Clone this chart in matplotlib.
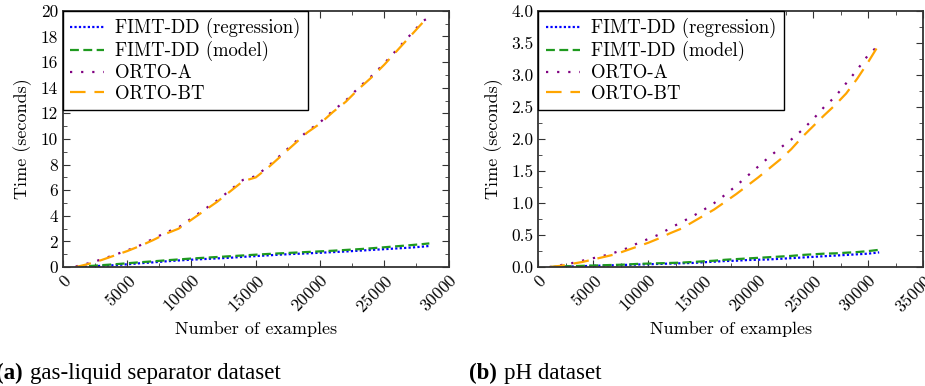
import matplotlib
matplotlib.use("Agg")
import matplotlib.pyplot as plt
from matplotlib.ticker import MultipleLocator

plt.rcParams['font.family'] = 'cmr10'
plt.rcParams['axes.formatter.use_mathtext'] = True
plt.rcParams['mathtext.fontset'] = 'cm'

# gas-liquid separator dataset
x_gas = [1000, 2000, 3000, 4000, 5000, 6000, 7000, 8000, 9000, 10000,
         11000, 12000, 13000, 14000, 15000, 16000, 17000, 18000, 19000, 20000,
         21000, 22000, 23000, 24000, 25000, 26000, 27000, 28000, 28500]
fimt_reg_gas = [0.0, 0.05, 0.1, 0.15, 0.22, 0.3, 0.37, 0.45, 0.52, 0.58,
                0.63, 0.68, 0.73, 0.8, 0.86, 0.92, 0.98, 1.03, 1.07, 1.12,
                1.17, 1.22, 1.28, 1.34, 1.4, 1.46, 1.52, 1.6, 1.65]
fimt_mod_gas = [0.0, 0.08, 0.15, 0.22, 0.3, 0.38, 0.45, 0.53, 0.6, 0.67,
                0.73, 0.79, 0.85, 0.91, 0.97, 1.03, 1.08, 1.13, 1.18, 1.23,
                1.28, 1.34, 1.4, 1.47, 1.55, 1.63, 1.71, 1.8, 1.85]
orto_a_gas = [0.05, 0.3, 0.6, 0.95, 1.3, 1.7, 2.2, 2.7, 3.1, 3.8,
              4.5, 5.2, 6.0, 6.8, 7.1, 7.9, 8.8, 9.7, 10.6, 11.3,
              12.2, 13.0, 14.0, 14.9, 15.9, 17.0, 18.1, 19.2, 19.5]
orto_bt_gas = [0.0, 0.25, 0.55, 0.9, 1.25, 1.65, 2.1, 2.6, 3.0, 3.7,
               4.4, 5.1, 5.9, 6.7, 7.0, 7.8, 8.7, 9.6, 10.5, 11.2,
               12.1, 12.9, 13.9, 14.8, 15.8, 16.9, 18.0, 19.1, 19.4]

# pH dataset
x_ph = [1000, 2000, 3000, 4000, 5000, 6000, 7000, 8000, 9000, 10000,
        11000, 12000, 13000, 14000, 15000, 16000, 17000, 18000, 19000, 20000,
        21000, 22000, 23000, 24000, 25000, 26000, 27000, 28000, 29000, 30000, 31000]
fimt_reg_ph = [0.0, 0.005, 0.01, 0.015, 0.02, 0.025, 0.03, 0.035, 0.04, 0.045,
               0.05, 0.055, 0.06, 0.065, 0.075, 0.085, 0.095, 0.1, 0.11, 0.115,
               0.12, 0.13, 0.14, 0.15, 0.16, 0.17, 0.18, 0.19, 0.2, 0.21, 0.23]
fimt_mod_ph = [0.0, 0.01, 0.015, 0.02, 0.025, 0.03, 0.035, 0.04, 0.05, 0.055,
               0.06, 0.065, 0.07, 0.08, 0.09, 0.1, 0.115, 0.125, 0.135, 0.145,
               0.155, 0.165, 0.175, 0.19, 0.2, 0.21, 0.215, 0.225, 0.235, 0.25, 0.27]
orto_a_ph = [0.0, 0.03, 0.06, 0.10, 0.14, 0.18, 0.23, 0.29, 0.37, 0.44,
             0.51, 0.61, 0.70, 0.79, 0.89, 1.00, 1.13, 1.27, 1.42, 1.57,
             1.72, 1.86, 1.99, 2.14, 2.31, 2.50, 2.66, 2.87, 3.08, 3.31, 3.47]
orto_bt_ph = [0.0, 0.02, 0.05, 0.08, 0.12, 0.16, 0.20, 0.26, 0.32, 0.38,
              0.45, 0.53, 0.60, 0.70, 0.80, 0.90, 1.02, 1.14, 1.27, 1.40,
              1.54, 1.68, 1.84, 2.03, 2.20, 2.37, 2.53, 2.71, 2.94, 3.20, 3.48]

labels = ['FIMT-DD (regression)', 'FIMT-DD (model)', 'ORTO-A', 'ORTO-BT']
colors = ['#0000ff', '#1f9a1f', '#800080', '#ffa500']
styles = [(0, (1, 1)), (0, (4, 2)), (0, (1, 4)), (0, (7, 4))]

fig = plt.figure(figsize=(9.25, 3.86), dpi=100)
ax1 = fig.add_axes([0.068, 0.308, 0.417, 0.664])
ax2 = fig.add_axes([0.582, 0.308, 0.416, 0.664])


def draw(ax, x, series, xmax, ymax, ymaj, ymin_step, fmt):
    for ys, lab, c, ls in zip(series, labels, colors, styles):
        ax.plot(x, ys, color=c, linestyle=ls, linewidth=1.6, label=lab)
    ax.set_xlim(0, xmax)
    ax.set_ylim(0, ymax)
    ax.xaxis.set_major_locator(MultipleLocator(5000))
    ax.xaxis.set_minor_locator(MultipleLocator(2500))
    ax.yaxis.set_major_locator(MultipleLocator(ymaj))
    ax.yaxis.set_minor_locator(MultipleLocator(ymin_step))
    ax.yaxis.set_major_formatter(plt.FormatStrFormatter(fmt))
    ax.tick_params(which='both', direction='in', top=True, right=True,
                   labelsize=12.5, color='#333333')
    ax.tick_params(which='major', length=5)
    ax.tick_params(which='minor', length=3)
    for lab in ax.get_xticklabels():
        lab.set_rotation(45)
        lab.set_ha('right')
        lab.set_rotation_mode('anchor')
    for sp in ax.spines.values():
        sp.set_color('#333333')
        sp.set_linewidth(1.3)
    ax.set_xlabel('Number of examples', fontsize=13, labelpad=4)
    ax.set_ylabel('Time (seconds)', fontsize=13, labelpad=6)
    leg = ax.legend(loc='upper left', fontsize=13.5, fancybox=False,
                    framealpha=1, edgecolor='black', borderaxespad=0,
                    handlelength=1.8, handletextpad=0.6,
                    labelspacing=0.15, borderpad=0.4)
    leg.get_frame().set_linewidth(1.0)


draw(ax1, x_gas, [fimt_reg_gas, fimt_mod_gas, orto_a_gas, orto_bt_gas],
     30000, 20, 2, 1, '%d')
draw(ax2, x_ph, [fimt_reg_ph, fimt_mod_ph, orto_a_ph, orto_bt_ph],
     35000, 4.0, 0.5, 0.25, '%.1f')

fig.text(-0.004, 0.018, '(a)', fontsize=16.5, fontweight='bold',
         family='Liberation Serif')
fig.text(0.032, 0.018, 'gas-liquid separator dataset', fontsize=16.5,
         family='Liberation Serif')
fig.text(0.507, 0.018, '(b)', fontsize=16.5, fontweight='bold',
         family='Liberation Serif')
fig.text(0.545, 0.018, 'pH dataset', fontsize=16.5, family='Liberation Serif')

fig.savefig('out.png', dpi=100)
